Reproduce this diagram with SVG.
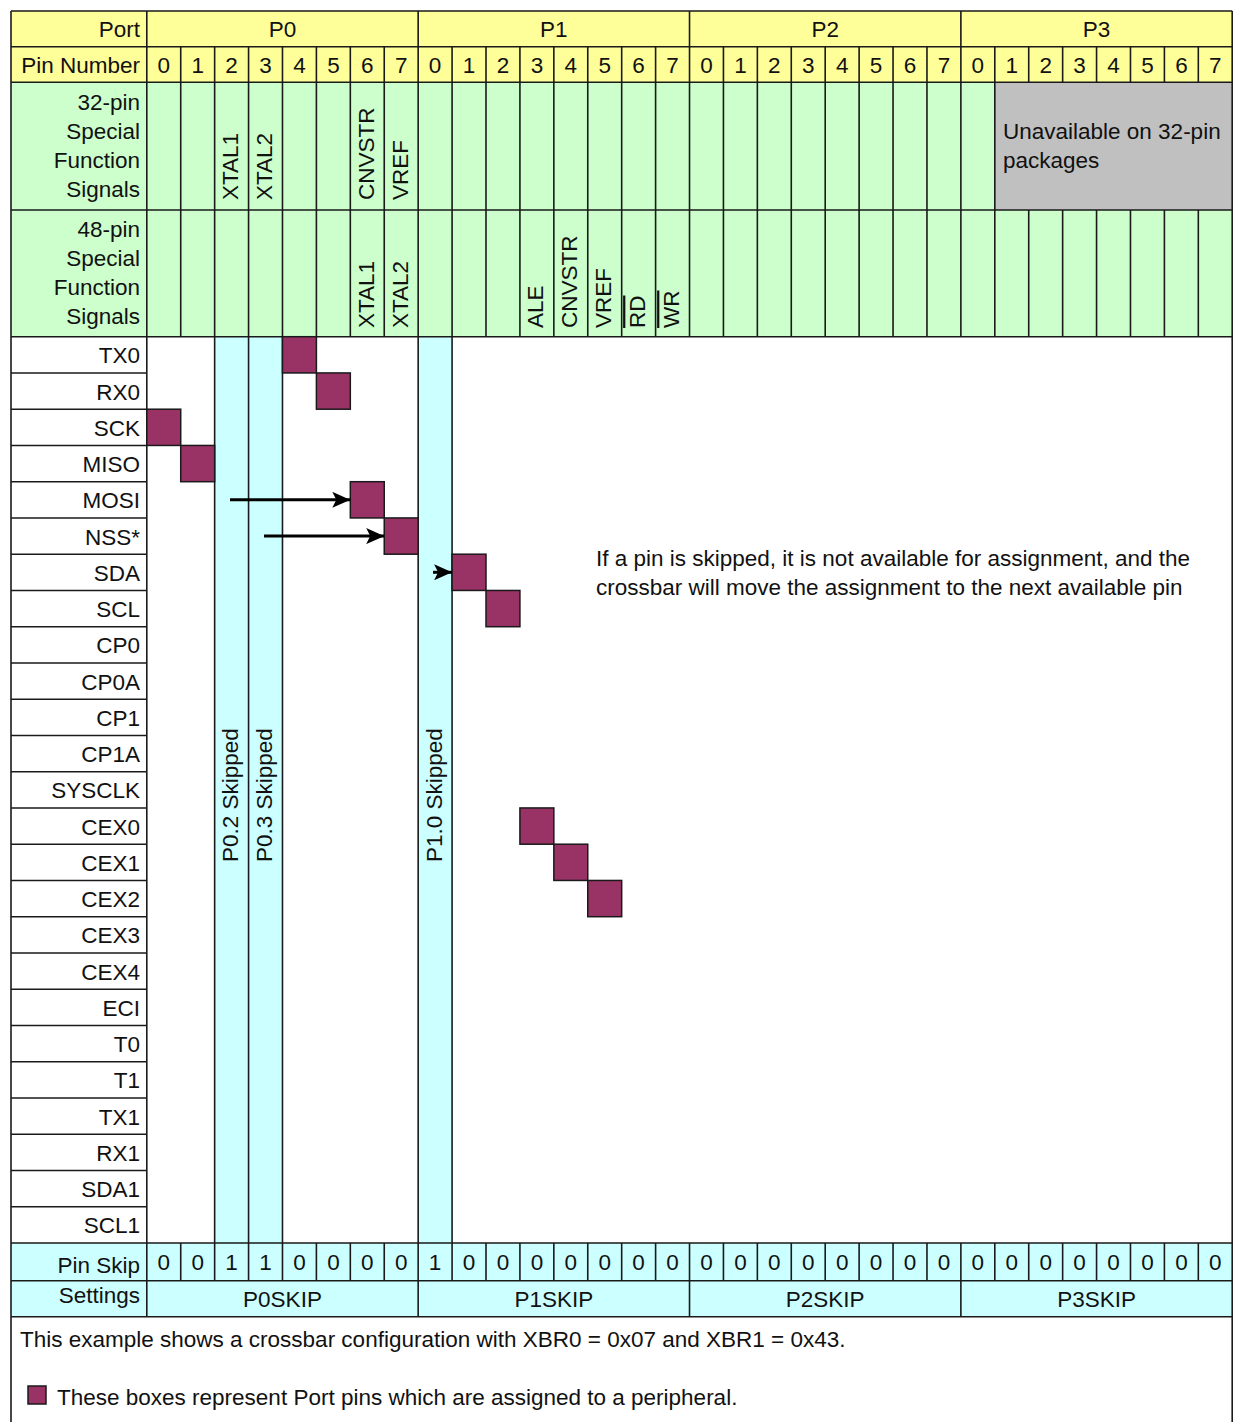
<svg xmlns="http://www.w3.org/2000/svg" width="1235" height="1422" viewBox="0 0 1235 1422">
<style>
.t{font-family:"Liberation Sans",Arial,sans-serif;font-size:22.5px;fill:#111}
.r{text-anchor:end}
.m{text-anchor:middle}
.g{stroke:#1a1a1a;stroke-width:1.6;fill:none}
.pin{fill:#993366;stroke:#1a1a1a;stroke-width:1.5}
.ol{text-decoration:overline}
.arr{stroke:#000;stroke-width:3;fill:none;marker-end:url(#ah)}
</style>
<defs>
<marker id="ah" viewBox="0 0 18 16" refX="18" refY="8" markerWidth="18" markerHeight="16" markerUnits="userSpaceOnUse" orient="auto">
<path d="M0,0 L18,8 L0,16 L4,8 Z" fill="#000"/>
</marker>
</defs>
<rect width="1235" height="1422" fill="#fff"/>

<g id="header">
<rect x="11" y="11" width="1221.2" height="71.3" fill="#FFFF99"/>
<rect x="11" y="82.3" width="1221.2" height="254.4" fill="#CCFFCC"/>
<rect x="994.8" y="82.3" width="237.4" height="127.7" fill="#C0C0C0"/>
<text class="t r" x="140" y="37">Port</text>
<text class="t m" x="282.5" y="37">P0</text>
<text class="t m" x="553.8" y="37">P1</text>
<text class="t m" x="825.2" y="37">P2</text>
<text class="t m" x="1096.6" y="37">P3</text>
<text class="t r" x="140" y="73">Pin Number</text>
<g class="t m">
<text x="163.8" y="73">0</text><text x="197.7" y="73">1</text><text x="231.6" y="73">2</text><text x="265.5" y="73">3</text><text x="299.4" y="73">4</text><text x="333.4" y="73">5</text><text x="367.3" y="73">6</text><text x="401.2" y="73">7</text>
<text x="435.1" y="73">0</text><text x="469.0" y="73">1</text><text x="503.0" y="73">2</text><text x="536.9" y="73">3</text><text x="570.8" y="73">4</text><text x="604.7" y="73">5</text><text x="638.6" y="73">6</text><text x="672.6" y="73">7</text>
<text x="706.5" y="73">0</text><text x="740.4" y="73">1</text><text x="774.3" y="73">2</text><text x="808.2" y="73">3</text><text x="842.2" y="73">4</text><text x="876.1" y="73">5</text><text x="910.0" y="73">6</text><text x="943.9" y="73">7</text>
<text x="977.8" y="73">0</text><text x="1011.8" y="73">1</text><text x="1045.7" y="73">2</text><text x="1079.6" y="73">3</text><text x="1113.5" y="73">4</text><text x="1147.4" y="73">5</text><text x="1181.4" y="73">6</text><text x="1215.3" y="73">7</text>
</g>
<g class="t r">
<text x="140" y="110">32-pin</text><text x="140" y="139">Special</text><text x="140" y="168">Function</text><text x="140" y="197">Signals</text>
<text x="140" y="237">48-pin</text><text x="140" y="266">Special</text><text x="140" y="295">Function</text><text x="140" y="324">Signals</text>
</g>
<text class="t" x="1003" y="139">Unavailable on 32-pin</text>
<text class="t" x="1003" y="168">packages</text>
<g class="t">
<text transform="translate(238.1,200) rotate(-90)">XTAL1</text>
<text transform="translate(272.0,200) rotate(-90)">XTAL2</text>
<text transform="translate(373.8,200) rotate(-90)">CNVSTR</text>
<text transform="translate(407.7,200) rotate(-90)">VREF</text>
<text transform="translate(373.8,328) rotate(-90)">XTAL1</text>
<text transform="translate(407.7,328) rotate(-90)">XTAL2</text>
<text transform="translate(543.4,328) rotate(-90)">ALE</text>
<text transform="translate(577.3,328) rotate(-90)">CNVSTR</text>
<text transform="translate(611.2,328) rotate(-90)">VREF</text>
<text class="ol" transform="translate(645.1,328) rotate(-90)">RD</text>
<text class="ol" transform="translate(679.1,328) rotate(-90)">WR</text>
</g>
</g>

<g id="skip-columns">
<rect x="214.64" y="336.7" width="67.84" height="906.3" fill="#CCFFFF"/>
<rect x="418.16" y="336.7" width="33.92" height="906.3" fill="#CCFFFF"/>
<g class="t">
<text transform="translate(238.1,862) rotate(-90)">P0.2 Skipped</text>
<text transform="translate(272.0,862) rotate(-90)">P0.3 Skipped</text>
<text transform="translate(441.6,862) rotate(-90)">P1.0 Skipped</text>
</g>
</g>

<g id="signal-labels" class="t r">
<text x="140" y="363.2">TX0</text>
<text x="140" y="399.5">RX0</text>
<text x="140" y="435.7">SCK</text>
<text x="140" y="472.0">MISO</text>
<text x="140" y="508.2">MOSI</text>
<text x="140" y="544.5">NSS*</text>
<text x="140" y="580.7">SDA</text>
<text x="140" y="617.0">SCL</text>
<text x="140" y="653.2">CP0</text>
<text x="140" y="689.5">CP0A</text>
<text x="140" y="725.7">CP1</text>
<text x="140" y="762.0">CP1A</text>
<text x="140" y="798.2">SYSCLK</text>
<text x="140" y="834.5">CEX0</text>
<text x="140" y="870.7">CEX1</text>
<text x="140" y="907.0">CEX2</text>
<text x="140" y="943.2">CEX3</text>
<text x="140" y="979.5">CEX4</text>
<text x="140" y="1015.7">ECI</text>
<text x="140" y="1052.0">T0</text>
<text x="140" y="1088.2">T1</text>
<text x="140" y="1124.5">TX1</text>
<text x="140" y="1160.7">RX1</text>
<text x="140" y="1197.0">SDA1</text>
<text x="140" y="1233.2">SCL1</text>
</g>

<g id="pin-skip">
<rect x="11" y="1243" width="1221.2" height="73.7" fill="#CCFFFF"/>
<text class="t r" x="140" y="1273">Pin Skip</text>
<text class="t r" x="140" y="1303">Settings</text>
<g class="t m">
<text x="163.8" y="1270">0</text><text x="197.7" y="1270">0</text><text x="231.6" y="1270">1</text><text x="265.5" y="1270">1</text><text x="299.4" y="1270">0</text><text x="333.4" y="1270">0</text><text x="367.3" y="1270">0</text><text x="401.2" y="1270">0</text>
<text x="435.1" y="1270">1</text><text x="469.0" y="1270">0</text><text x="503.0" y="1270">0</text><text x="536.9" y="1270">0</text><text x="570.8" y="1270">0</text><text x="604.7" y="1270">0</text><text x="638.6" y="1270">0</text><text x="672.6" y="1270">0</text>
<text x="706.5" y="1270">0</text><text x="740.4" y="1270">0</text><text x="774.3" y="1270">0</text><text x="808.2" y="1270">0</text><text x="842.2" y="1270">0</text><text x="876.1" y="1270">0</text><text x="910.0" y="1270">0</text><text x="943.9" y="1270">0</text>
<text x="977.8" y="1270">0</text><text x="1011.8" y="1270">0</text><text x="1045.7" y="1270">0</text><text x="1079.6" y="1270">0</text><text x="1113.5" y="1270">0</text><text x="1147.4" y="1270">0</text><text x="1181.4" y="1270">0</text><text x="1215.3" y="1270">0</text>
<text x="282.5" y="1306.5">P0SKIP</text>
<text x="553.8" y="1306.5">P1SKIP</text>
<text x="825.2" y="1306.5">P2SKIP</text>
<text x="1096.6" y="1306.5">P3SKIP</text>
</g>
</g>

<g id="grid" class="g">
<path d="M11,11 H1232.2 M11,46.7 H1232.2 M11,82.3 H1232.2 M11,210 H1232.2 M11,336.7 H1232.2 M11,1243 H1232.2 M11,1280.7 H1232.2 M11,1316.7 H1232.2"/>
<path d="M11,11 V1422 M1232.2,11 V1422 M146.8,11 V1316.7"/>
<path d="M11,372.95 H146.8 M11,409.2 H146.8 M11,445.45 H146.8 M11,481.7 H146.8 M11,517.95 H146.8 M11,554.2 H146.8 M11,590.45 H146.8 M11,626.7 H146.8 M11,662.95 H146.8 M11,699.2 H146.8 M11,735.45 H146.8 M11,771.7 H146.8 M11,807.95 H146.8 M11,844.2 H146.8 M11,880.45 H146.8 M11,916.7 H146.8 M11,952.95 H146.8 M11,989.2 H146.8 M11,1025.45 H146.8 M11,1061.7 H146.8 M11,1097.95 H146.8 M11,1134.2 H146.8 M11,1170.45 H146.8 M11,1206.7 H146.8"/>
<path d="M418.16,11 V336.7 M689.52,11 V336.7 M960.88,11 V336.7
M180.72,46.7 V336.7 M214.64,46.7 V336.7 M248.56,46.7 V336.7 M282.48,46.7 V336.7 M316.4,46.7 V336.7 M350.32,46.7 V336.7 M384.24,46.7 V336.7
M452.08,46.7 V336.7 M486,46.7 V336.7 M519.92,46.7 V336.7 M553.84,46.7 V336.7 M587.76,46.7 V336.7 M621.68,46.7 V336.7 M655.6,46.7 V336.7
M723.44,46.7 V336.7 M757.36,46.7 V336.7 M791.28,46.7 V336.7 M825.2,46.7 V336.7 M859.12,46.7 V336.7 M893.04,46.7 V336.7 M926.96,46.7 V336.7
M994.8,46.7 V336.7
M1028.72,46.7 V82.3 M1062.64,46.7 V82.3 M1096.56,46.7 V82.3 M1130.48,46.7 V82.3 M1164.4,46.7 V82.3 M1198.32,46.7 V82.3
M1028.72,210 V336.7 M1062.64,210 V336.7 M1096.56,210 V336.7 M1130.48,210 V336.7 M1164.4,210 V336.7 M1198.32,210 V336.7"/>
<path d="M214.64,336.7 V1243 M248.56,336.7 V1243 M282.48,336.7 V1243 M418.16,336.7 V1243 M452.08,336.7 V1243"/>
<path d="M418.16,1243 V1316.7 M689.52,1243 V1316.7 M960.88,1243 V1316.7
M180.72,1243 V1280.7 M214.64,1243 V1280.7 M248.56,1243 V1280.7 M282.48,1243 V1280.7 M316.4,1243 V1280.7 M350.32,1243 V1280.7 M384.24,1243 V1280.7
M452.08,1243 V1280.7 M486,1243 V1280.7 M519.92,1243 V1280.7 M553.84,1243 V1280.7 M587.76,1243 V1280.7 M621.68,1243 V1280.7 M655.6,1243 V1280.7
M723.44,1243 V1280.7 M757.36,1243 V1280.7 M791.28,1243 V1280.7 M825.2,1243 V1280.7 M859.12,1243 V1280.7 M893.04,1243 V1280.7 M926.96,1243 V1280.7
M994.8,1243 V1280.7 M1028.72,1243 V1280.7 M1062.64,1243 V1280.7 M1096.56,1243 V1280.7 M1130.48,1243 V1280.7 M1164.4,1243 V1280.7 M1198.32,1243 V1280.7"/>
</g>

<g id="assigned-pins">
<rect id="pin-TX0" class="pin" x="282.48" y="336.7" width="33.92" height="36.25"/>
<rect id="pin-RX0" class="pin" x="316.4" y="372.95" width="33.92" height="36.25"/>
<rect id="pin-SCK" class="pin" x="146.8" y="409.2" width="33.92" height="36.25"/>
<rect id="pin-MISO" class="pin" x="180.72" y="445.45" width="33.92" height="36.25"/>
<rect id="pin-MOSI" class="pin" x="350.32" y="481.7" width="33.92" height="36.25"/>
<rect id="pin-NSS" class="pin" x="384.24" y="517.95" width="33.92" height="36.25"/>
<rect id="pin-SDA" class="pin" x="452.08" y="554.2" width="33.92" height="36.25"/>
<rect id="pin-SCL" class="pin" x="486" y="590.45" width="33.92" height="36.25"/>
<rect id="pin-CEX0" class="pin" x="519.92" y="807.95" width="33.92" height="36.25"/>
<rect id="pin-CEX1" class="pin" x="553.84" y="844.2" width="33.92" height="36.25"/>
<rect id="pin-CEX2" class="pin" x="587.76" y="880.45" width="33.92" height="36.25"/>
</g>

<g id="connectors">
<line class="arr" x1="230" y1="499.8" x2="350.3" y2="499.8"/>
<line class="arr" x1="264" y1="536.1" x2="384.2" y2="536.1"/>
<line class="arr" x1="433" y1="572.3" x2="452.1" y2="572.3"/>
</g>

<g id="note">
<text class="t" x="596" y="566">If a pin is skipped, it is not available for assignment, and the</text>
<text class="t" x="596" y="595">crossbar will move the assignment to the next available pin</text>
</g>

<g id="footer">
<text class="t" x="20" y="1347">This example shows a crossbar configuration with XBR0 = 0x07 and XBR1 = 0x43.</text>
<rect class="pin" x="28" y="1386" width="18" height="18"/>
<text class="t" x="57" y="1405">These boxes represent Port pins which are assigned to a peripheral.</text>
</g>
</svg>
